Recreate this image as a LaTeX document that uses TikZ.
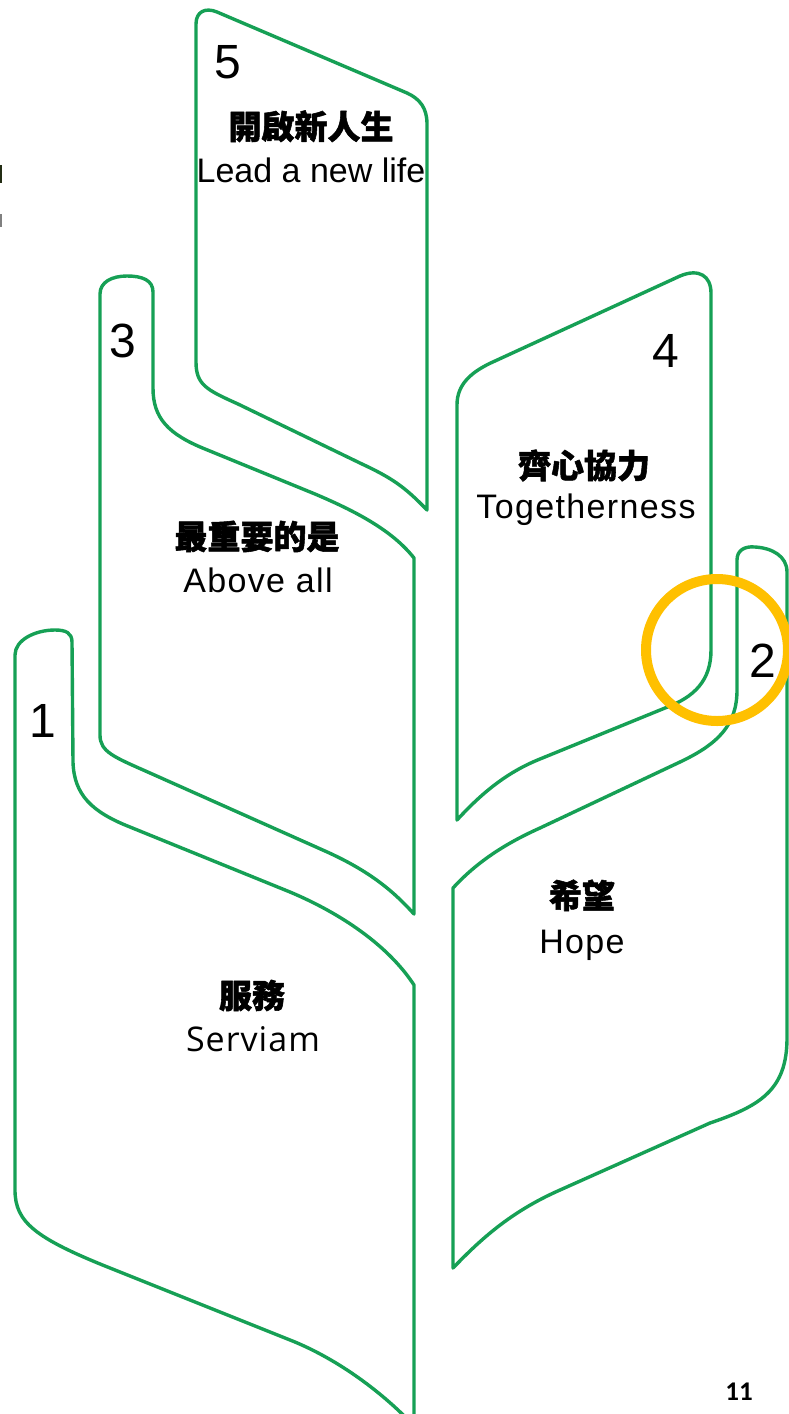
\documentclass[tikz,border=0pt]{standalone}
\usepackage{fontspec}
\setmainfont{Liberation Sans}[LetterSpace=4]
\newfontfamily\cjk{Noto Sans CJK TC}[BoldFeatures={FakeBold=1.6}]
\newfontfamily\osans{Open Sans}[LetterSpace=3]
\newfontfamily\numfont{Liberation Sans}
\newfontfamily\pgfont{Carlito}
\definecolor{lg}{RGB}{22,160,85}
\definecolor{ring}{RGB}{255,192,0}
\definecolor{edgemark}{RGB}{35,45,20}
\begin{document}
\begin{tikzpicture}[x=1pt,y=-1pt,line join=round]
\tikzset{
  leaf/.style={draw=lg,line width=3.4pt,line join=round},
  num/.style={font=\numfont\fontsize{48}{50}\selectfont,anchor=base,inner sep=0pt},
  en/.style={font=\fontsize{34}{40}\selectfont,anchor=base,inner sep=0pt},
  zh/.style={font=\cjk\bfseries\fontsize{33}{38}\selectfont,anchor=base,inner sep=0pt},
}
\useasboundingbox (0,0) rectangle (789,1414);
\fill[white] (0,0) rectangle (789,1414);

% shape 5
\draw[leaf] (427,510) .. controls (405,487) and (392,478) .. (362,464) -- (238,404)
  .. controls (207,390) and (196,385) .. (196,362) -- (196,24)
  .. controls (196,12) and (205,7) .. (217,12) -- (407,93)
  .. controls (420,99) and (427,108) .. (427,124) -- cycle;
% shape 3
\draw[leaf] (100,735) -- (100,294) .. controls (100,282) and (112,276) .. (127,276)
  .. controls (142,276) and (153,280) .. (153,292) -- (153,388)
  .. controls (153,418) and (168,434) .. (205,449) -- (315,494)
  .. controls (355,511) and (392,530) .. (414,558) -- (414,914)
  .. controls (395,893) and (372,872) .. (325,851) -- (150,773)
  .. controls (114,757) and (100,752) .. (100,735) -- cycle;
% shape 1
\draw[leaf] (15,1190) -- (15,655) .. controls (15,640) and (35,630) .. (55,630)
  .. controls (66,630) and (72,633) .. (72,642) -- (73,762)
  .. controls (74,795) and (92,812) .. (130,827) -- (290,892)
  .. controls (340,913) and (388,945) .. (414,985) -- (414,1426)
  .. controls (388,1398) and (345,1363) .. (295,1342) -- (110,1268)
  .. controls (35,1238) and (15,1222) .. (15,1190) -- cycle;
% shape 4
\draw[leaf] (457,820) -- (457,405) .. controls (457,385) and (470,372) .. (495,361)
  -- (680,276) .. controls (699,268) and (711,276) .. (711,293) -- (711,650)
  .. controls (711,680) and (695,697) .. (665,708) -- (540,759)
  .. controls (505,773) and (480,795) .. (457,820) -- cycle;
% shape 2
\draw[leaf] (453,1268) -- (453,888) .. controls (475,864) and (502,845) .. (540,828)
  -- (680,762) .. controls (718,744) and (737,725) .. (737,690) -- (737,560)
  .. controls (737,550) and (745,546) .. (755,547)
  .. controls (772,548) and (787,556) .. (787,572) -- (787,1038)
  .. controls (787,1090) and (760,1106) .. (710,1123) -- (560,1190)
  .. controls (510,1212) and (480,1240) .. (453,1268) -- cycle;

% ring
\draw[ring,line width=10pt] (717,650) circle[radius=71pt];

% labels
\node[num] (n5) at (228,78) {5};
\node[zh] (z5) at (311,139) {開啟新人生};
\node[en,font=\numfont\fontsize{34}{40}\selectfont] (e5) at (311,182) {Lead a new life};

\node[num] (n3) at (123,357) {3};
\node[zh] (z3) at (257,549) {最重要的是};
\node[en] (e3) at (258,592) {Above all};

\node[num] (n1) at (43,737) {1};
\node[zh] (z1) at (252,1008) {服務};
\node[en,font=\osans\fontsize{34}{40}\selectfont] (e1) at (253,1051) {Serviam};

\node[num] (n4) at (666,367) {4};
\node[zh] (z4) at (584,478) {齊心協力};
\node[en] (e4) at (586,518) {Togetherness};

\node[num] (n2) at (763,677) {2};
\node[zh] (z2) at (582,908) {希望};
\node[en] (e2) at (582,953) {Hope};

\node[font=\pgfont\bfseries\fontsize{27}{30}\selectfont,anchor=base,inner sep=0pt] (pg) at (739,1400) {11};

% cut-off marks at left edge
\fill[edgemark] (0,165) rectangle (2,183);
\fill[gray] (0,214) rectangle (2,227);
\end{tikzpicture}
\end{document}
